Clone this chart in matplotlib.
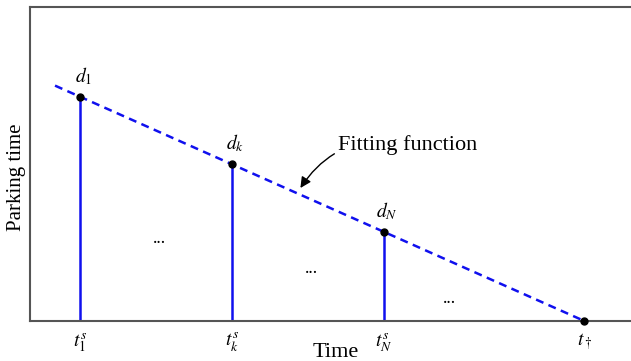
import numpy as np
import matplotlib.pyplot as plt

# arrival times of the parking events and their parking durations
event_times = [1.0, 2.0, 3.0]
parking_times = [4.48, 3.14, 1.78]
event_labels = [r'$t_1^s$', r'$t_k^s$', r'$t_N^s$']
duration_labels = [r'$d_1$', r'$d_k$', r'$d_N$']
end_time = 4.32
end_label = r'$t_\dagger$'
fit_start = 0.834

plt.rcParams['font.family'] = ['Liberation Serif', 'DejaVu Serif']
plt.rcParams['mathtext.fontset'] = 'stix'

fig = plt.figure(figsize=(6.31, 3.61), dpi=100)
ax = fig.add_axes([0.0475, 0.1108, 0.97, 0.8698])

blue = '#1010ee'

# linear fit through the observed durations, ending at zero on the time axis
fx = np.array(event_times + [end_time])
fy = np.array(parking_times + [0.0])
slope, icpt = np.polyfit(fx, fy, 1)
line_x = np.array([fit_start, end_time])
ax.plot(line_x, slope * line_x + icpt, ls=(0, (3.2, 2.2)), color=blue, lw=1.8, zorder=2)

# stems for each event
for t, d, tl, dl in zip(event_times, parking_times, event_labels, duration_labels):
    ax.plot([t, t], [0, d], color=blue, lw=1.8, zorder=2)
    ax.plot(t, d, 'o', color='black', ms=5, zorder=3)
    ax.text(t + 0.02, d + 0.2, dl, fontsize=14, ha='center', va='bottom')
    ax.text(t, -0.2, tl, fontsize=14, ha='center', va='top')

ax.plot(end_time, 0, 'o', color='black', ms=5, zorder=3, clip_on=False)
ax.text(end_time, -0.2, end_label, fontsize=14, ha='center', va='top')

# ellipses between the stems
for x, y in [(1.52, 1.66), (2.52, 1.06), (3.43, 0.46)]:
    ax.text(x, y, '...', fontsize=13, ha='center', va='center')

ax.annotate('Fitting function', xy=(2.45, 2.66), xytext=(2.70, 3.52),
            fontsize=16, ha='left', va='center',
            arrowprops=dict(arrowstyle='-|>', color='black', lw=1,
                            mutation_scale=16,
                            shrinkA=1, shrinkB=0,
                            connectionstyle='arc3,rad=0.35'))

ax.set_xlim(0.669, 4.7)
ax.set_ylim(0, 6.28)
ax.set_xticks([])
ax.set_yticks([])
for side in ['left', 'top', 'bottom']:
    ax.spines[side].set_color('#555555')
    ax.spines[side].set_linewidth(1.5)
ax.spines['right'].set_visible(False)

ax.set_xlabel('Time', fontsize=16, labelpad=16)
fig.text(0.026, 0.51, 'Parking time', fontsize=15, rotation=90,
         ha='center', va='center')

fig.savefig('out.png', dpi=100)
